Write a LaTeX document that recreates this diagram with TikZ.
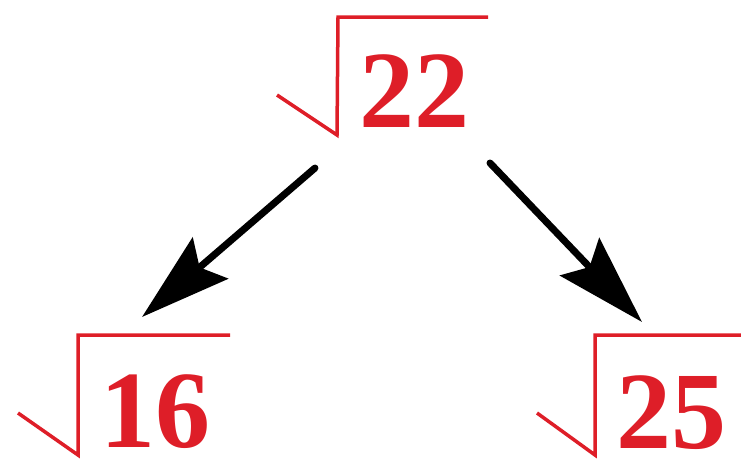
\documentclass[tikz,border=0pt]{standalone}
\usepackage{fontspec}
\setmainfont{Liberation Serif}
\usetikzlibrary{arrows.meta}
\definecolor{rootred}{RGB}{222,30,40}
\tikzset{
  num/.style={text=rootred, font=\fontsize{110}{110}\selectfont\bfseries, inner sep=0pt, text depth=0pt, anchor=base west},
  radical/.style={draw=rootred, line width=3.5pt, line join=miter},
  bigarrow/.style={draw=black, line width=7pt, line cap=round, -{Stealth[length=90pt, width=54pt, inset=14pt]}}
}
\begin{document}
\begin{tikzpicture}[x=1pt, y=-1pt]
\useasboundingbox (0,0) rectangle (741,466);
% top
\draw[radical] (277,95) -- (337,135) -- (338,17) -- (488,17);
\node[num] (n22) at (359,127) {22};
% left
\draw[radical] (18,413) -- (78,455) -- (78,335) -- (230,335);
\node[num] (n16) at (100,447) {16};
% right
\draw[radical] (537,413) -- (595,455) -- (595,335) -- (745,335);
\node[num] (n25) at (616,448) {25};
% arrows
\coordinate (la) at (315,168);
\coordinate (lb) at (142,317);
\coordinate (ra) at (490,163);
\coordinate (rb) at (642,322);
\draw[bigarrow] (la) -- (lb);
\draw[bigarrow] (ra) -- (rb);
\end{tikzpicture}
\end{document}
